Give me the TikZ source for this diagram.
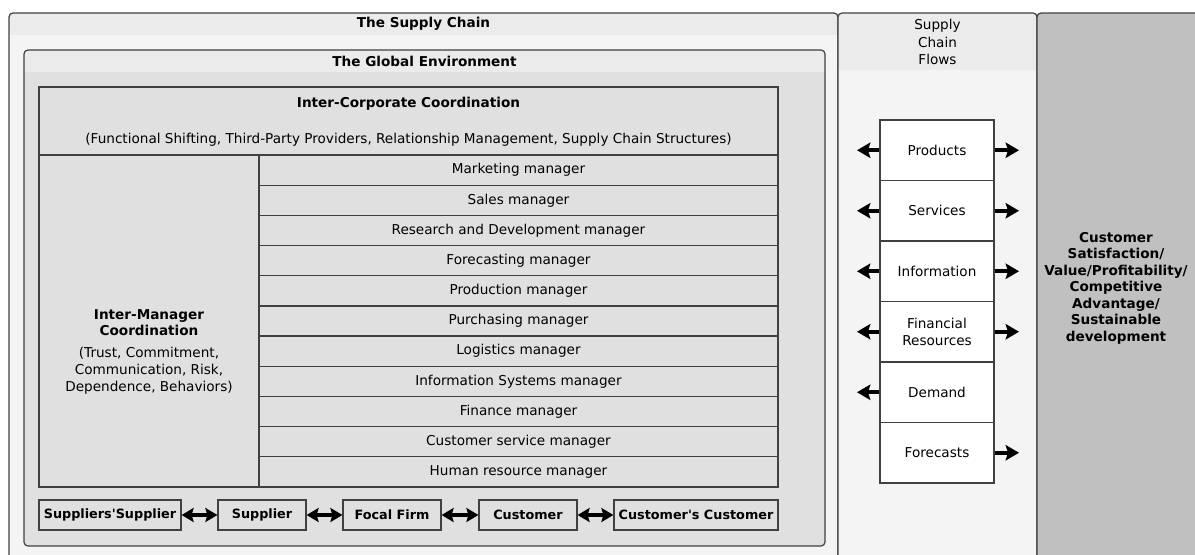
\documentclass[tikz,border=0pt]{standalone}
\usepackage{fontspec}
\setmainfont{DejaVu Sans}
\usetikzlibrary{arrows.meta}
\definecolor{hdr}{HTML}{EBEBEB}
\definecolor{bodyl}{HTML}{F4F4F4}
\definecolor{cellg}{HTML}{E0E0E0}
\definecolor{darkg}{HTML}{C0C0C0}
\definecolor{edgec}{HTML}{404040}
\def\px{0.75pt}
\begin{document}
\begin{tikzpicture}[x=0.75pt,y=-0.75pt,
  font=\fontsize{10.2}{12.4}\selectfont,
  frame/.style={draw=edgec, line width=0.9pt},
  cell/.style={draw=edgec, fill=cellg, line width=0.9pt, inner sep=0pt, align=center},
  flowbox/.style={draw=edgec, fill=white, line width=0.9pt, inner sep=0pt, align=center,
    minimum width=114*\px, minimum height=60.5*\px},
  rowbox/.style={cell, minimum width=519*\px, minimum height=30.18*\px},
  firm/.style={cell, font=\fontsize{9.6}{12.4}\selectfont\bfseries, minimum height=30*\px},
  flowarrow/.style={line width=2.8pt, -{Stealth[length=10pt,width=11.5pt,inset=1.8pt]}},
  linkarrow/.style={line width=2.4pt, {Stealth[length=9pt,width=10.5pt,inset=1.5pt]}-{Stealth[length=9pt,width=10.5pt,inset=1.5pt]}},
  title/.style={font=\fontsize{10.2}{12.4}\selectfont\bfseries, inner sep=0pt}
]
\useasboundingbox (0,0) rectangle (1195,554);
\begin{scope}
\clip (0,0) rectangle (1195,554);
% The Supply Chain container
\fill[hdr, rounded corners=3pt] (9,13) rectangle (838,45);
\fill[bodyl] (9,35) rectangle (838,600);
\draw[frame, rounded corners=3pt] (9,600) -- (9,13) -- (838,13) -- (838,600);
% Supply Chain Flows column
\fill[hdr, rounded corners=3pt] (838,13) rectangle (1037,80);
\fill[bodyl] (838,70) rectangle (1037,600);
\draw[frame, rounded corners=3pt] (838,600) -- (838,13) -- (1037,13) -- (1037,600);
% Result column
\fill[darkg, rounded corners=3pt] (1037,13) rectangle (1210,600);
\draw[frame, rounded corners=3pt] (1037,600) -- (1037,13) -- (1210,13);
% The Global Environment container
\fill[hdr, rounded corners=3pt] (24,50) rectangle (825,82);
\fill[cellg, rounded corners=3pt] (24,72) rectangle (825,546);
\fill[cellg] (24,72) rectangle (825,90);
\draw[frame, rounded corners=3pt] (24,50) rectangle (825,546);
\end{scope}

\node[title] (tsc) at (423.5,24) {The Supply Chain};
\node[title] (tge) at (424.5,61) {The Global Environment};
\node[align=center, inner sep=0pt, font=\fontsize{10.2}{12.9}\selectfont] (tflows) at (937.5,42) {Supply\\Chain\\Flows};

% Inter-corporate coordination
\node[cell, minimum width=739*\px, minimum height=68*\px] (icc) at (408.5,121) {};
\node[title] (icct) at (408.5,104) {Inter-Corporate Coordination};
\node[inner sep=0pt] (iccs) at (408.5,140) {(Functional Shifting, Third-Party Providers, Relationship Management, Supply Chain Structures)};

% Inter-manager coordination
\node[cell, minimum width=220*\px, minimum height=332*\px] (imc) at (149,321) {};
\node[title, align=center] (imct) at (149,322.5) {Inter-Manager\\Coordination};
\node[align=center, inner sep=0pt, anchor=north, font=\fontsize{10.2}{12.8}\selectfont] (imcs) at (149,347) {(Trust, Commitment,\\Communication, Risk,\\Dependence, Behaviors)};

% Manager rows
\foreach \i/\t in {1/Marketing manager, 2/Sales manager, 3/Research and Development manager,
  4/Forecasting manager, 5/Production manager, 6/Purchasing manager, 7/Logistics manager,
  8/Information Systems manager, 9/Finance manager, 10/Customer service manager,
  11/Human resource manager}{
  \node[rowbox] (r\i) at (518.5,{155+30.18*(\i-0.5)}) {\t};
}

% Chain of firms
\node[firm, minimum width=142*\px] (ss) at (110,515) {Suppliers\textquotesingle Supplier};
\node[firm, minimum width=88*\px] (sup) at (262,515) {Supplier};
\node[firm, minimum width=98*\px] (ff) at (392,515) {Focal Firm};
\node[firm, minimum width=98*\px] (cus) at (528,515) {Customer};
\node[firm, minimum width=164*\px] (cc) at (696,515) {Customer\textquotesingle s Customer};
\draw[linkarrow] (ss) -- (sup);
\draw[linkarrow] (sup) -- (ff);
\draw[linkarrow] (ff) -- (cus);
\draw[linkarrow] (cus) -- (cc);

% Flows
\foreach \i/\t in {1/Products, 2/Services, 3/Information, 4/{Financial\\Resources}, 5/Demand, 6/Forecasts}{
  \node[flowbox] (f\i) at (937,{120+60.5*(\i-0.5)}) {\t};
  \coordinate (fl\i) at (857,{120+60.5*(\i-0.5)});
  \coordinate (fr\i) at (1019,{120+60.5*(\i-0.5)});
}
\foreach \i in {1,2,3,4,5}{ \draw[flowarrow] (f\i.west) -- (fl\i); }
\foreach \i in {1,2,3,4,6}{ \draw[flowarrow] (f\i.east) -- (fr\i); }

% Outcome
\node[title, align=center] (out) at (1116,288) {Customer\\Satisfaction/\\Value/Profitability/\\Competitive\\Advantage/\\Sustainable\\development};
\end{tikzpicture}
\end{document}
